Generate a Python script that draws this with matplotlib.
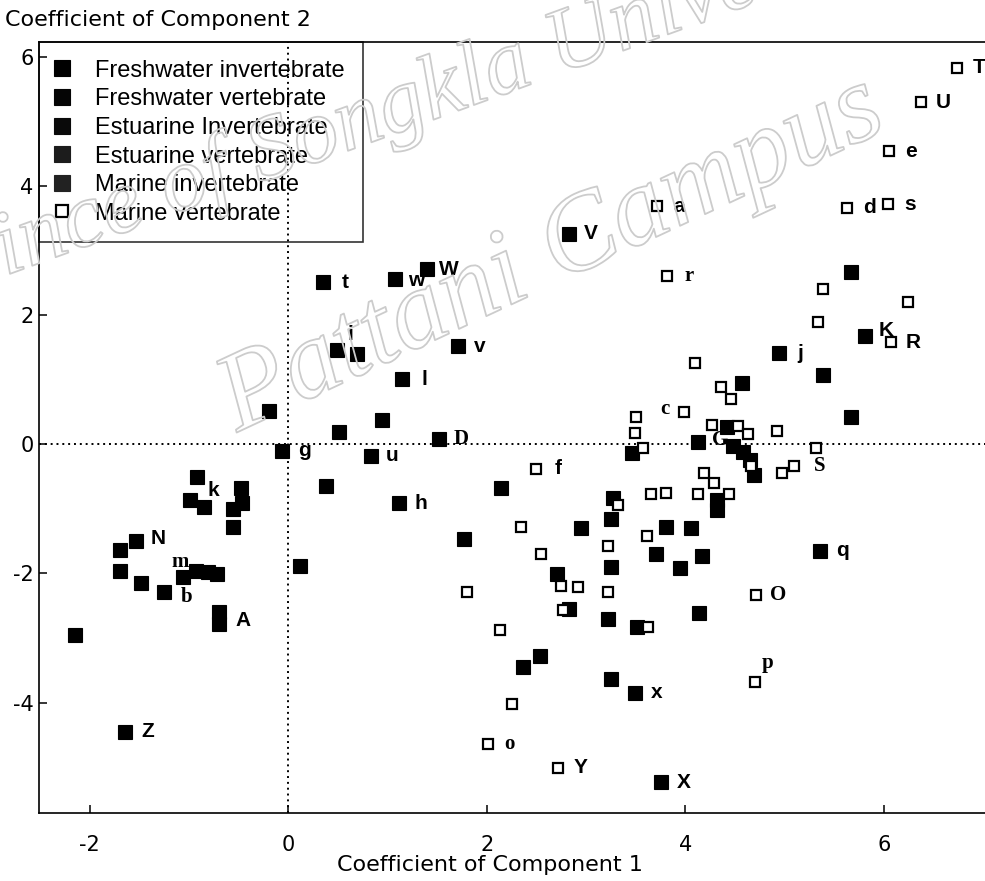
import matplotlib
matplotlib.use("Agg")
import matplotlib.pyplot as plt
import matplotlib.patheffects as pe
from matplotlib.lines import Line2D

plt.rcParams["axes.unicode_minus"] = False
plt.rcParams["font.family"] = "DejaVu Sans"

# PCA scores: component 1 (x), component 2 (y), point label ("" = unlabelled)
fw_inv_x = [-0.92, -0.99, -0.85, -0.48, -0.46, -0.56, -0.56, -1.53, -1.69, -1.69,
            -1.48, -1.25, -1.06, -0.93, -0.81, -0.72, -0.70, -0.70, -2.15, -1.64]
fw_inv_y = [-0.51, -0.86, -0.97, -0.68, -0.91, -1.00, -1.28, -1.50, -1.64, -1.96,
            -2.15, -2.29, -2.05, -1.96, -1.98, -2.01, -2.60, -2.78, -2.95, -4.45]
fw_inv_lab = ["k", "", "", "", "", "", "", "N", "", "",
              "", "b", "m", "", "", "", "A", "", "", "Z"]

fw_vert_x = [0.12, -0.06, -0.19, 0.35, 1.08, 1.40, 0.49, 0.69, 1.71, 1.15,
             0.95, 0.51, 1.52, 0.83, 0.38, 1.12, 2.83]
fw_vert_y = [-1.88, -0.10, 0.52, 2.51, 2.56, 2.71, 1.46, 1.40, 1.52, 1.01,
             0.38, 0.19, 0.08, -0.18, -0.65, -0.91, 3.26]
fw_vert_lab = ["", "g", "", "t", "w", "W", "i", "", "v", "l",
               "", "", "D", "u", "", "h", "V"]

est_inv_x = [2.14, 1.77, 2.95, 3.25, 3.27, 2.71, 2.83, 3.25, 3.22, 3.51,
             3.81, 4.06, 3.71, 3.95, 4.17, 4.14, 2.54, 2.37, 3.25, 3.49, 3.76]
est_inv_y = [-0.68, -1.47, -1.30, -1.16, -0.83, -2.01, -2.55, -1.90, -2.70, -2.83,
             -1.28, -1.30, -1.70, -1.92, -1.73, -2.61, -3.28, -3.45, -3.63, -3.85, -5.23]
est_inv_lab = [""] * 19 + ["x", "X"]

est_vert_x = [3.46, 4.13, 4.57, 4.42, 4.48, 4.58, 4.65, 4.69, 4.32, 4.32]
est_vert_y = [-0.14, 0.04, 0.95, 0.27, -0.03, -0.12, -0.24, -0.48, -0.86, -1.02]
est_vert_lab = ["", "", "", "", "G", "", "", "", "", ""]

mar_inv_x = [4.94, 5.39, 5.67, 5.67, 5.81, 5.36]
mar_inv_y = [1.41, 1.07, 0.42, 2.67, 1.68, -1.65]
mar_inv_lab = ["j", "", "", "", "K", "q"]

mar_vert_x = [6.74, 6.38, 6.05, 5.63, 6.04, 3.72, 3.82, 5.39, 6.24, 5.34,
              6.07, 4.10, 4.36, 4.46, 3.99, 3.50, 3.49, 3.57, 4.27, 4.53,
              4.63, 4.92, 4.66, 4.97, 5.10, 5.32, 4.19, 4.29, 3.66, 3.81,
              4.13, 4.44, 2.50, 3.32, 2.35, 2.55, 2.75, 2.92, 1.80, 2.13,
              2.77, 3.22, 3.22, 3.62, 3.63, 4.71, 4.70, 2.25, 2.01, 2.72]
mar_vert_y = [5.83, 5.30, 4.54, 3.66, 3.72, 3.69, 2.61, 2.40, 2.20, 1.89,
              1.58, 1.26, 0.89, 0.70, 0.50, 0.42, 0.18, -0.06, 0.30, 0.28,
              0.16, 0.21, -0.34, -0.44, -0.34, -0.06, -0.44, -0.60, -0.77, -0.75,
              -0.77, -0.77, -0.38, -0.94, -1.28, -1.70, -2.19, -2.21, -2.29, -2.87,
              -2.57, -1.57, -2.29, -1.42, -2.83, -2.33, -3.68, -4.02, -4.64, -5.01]
mar_vert_lab = ["T", "U", "e", "d", "s", "a", "r", "", "", "",
                "R", "", "", "", "c", "", "", "", "", "",
                "", "", "", "", "", "S", "", "", "", "",
                "", "", "f", "", "", "", "", "", "", "",
                "", "", "", "", "", "O", "p", "", "o", "Y"]

group_names = ["Freshwater invertebrate", "Freshwater vertebrate", "Estuarine Invertebrate",
               "Estuarine vertebrate", "Marine invertebrate", "Marine vertebrate"]
legend_colors = ["#000000", "#050505", "#0a0a0a", "#1c1c1c", "#222222", "#000000"]

# label offsets in pixels (dx, dy); anything not listed sits to the right
label_offsets = {"k": (16, -13), "b": (22, -5), "m": (-3, 15), "A": (24, -8),
                 "i": (14, 16), "c": (-19, 3), "S": (3, -18), "p": (13, 19),
                 "G": (-13, 6), "N": (22, 3), "w": (21, -2), "K": (21, 5)}
serif_labels = {"m", "b", "D", "o", "p", "c", "G", "S", "O", "r"}

fig = plt.figure(figsize=(9.85, 8.81), dpi=100)
ax = fig.add_axes([39 / 985, 1 - 813 / 881, (985 - 39) / 985, (813 - 42) / 881])

# outlined watermark lettering
wm = dict(color="none", family="Liberation Serif", style="italic",
          ha="center", va="center", zorder=10,
          path_effects=[pe.withStroke(linewidth=1.3, foreground="#cccccc")])
fig.text(410 / 985, 1 - 104 / 881, "Prince of Songkla University", rotation=20,
         fontsize=66, **wm)
fig.text(552 / 985, 1 - 256 / 881, "Pattani Campus", rotation=25, fontsize=80, **wm)

ax.axhline(0, color="black", lw=1.4, ls=(0, (1, 2)), zorder=1)
ax.axvline(0, color="black", lw=1.4, ls=(0, (1, 2)), zorder=1)

groups = [
    (fw_inv_x, fw_inv_y, fw_inv_lab, True),
    (fw_vert_x, fw_vert_y, fw_vert_lab, True),
    (est_inv_x, est_inv_y, est_inv_lab, True),
    (est_vert_x, est_vert_y, est_vert_lab, True),
    (mar_inv_x, mar_inv_y, mar_inv_lab, True),
    (mar_vert_x, mar_vert_y, mar_vert_lab, False),
]

for xs, ys, labs, filled in groups:
    if filled:
        ax.plot(xs, ys, ls="none", marker="s", ms=9.6, mfc="black", mec="black",
                mew=0.8, zorder=3)
    else:
        ax.plot(xs, ys, ls="none", marker="s", ms=7.6, mfc="white", mec="black",
                mew=1.6, zorder=4)
    for x, y, lab in zip(xs, ys, labs):
        if not lab:
            continue
        dx, dy = label_offsets.get(lab, (22, 0))
        fam = "Liberation Serif" if lab in serif_labels else "Liberation Sans"
        ax.annotate(lab, (x, y), xytext=(dx, dy), textcoords="offset pixels",
                    ha="center", va="center", fontsize=15, fontweight="bold",
                    family=fam, zorder=5)

handles = []
for (xs, ys, labs, filled), name, col in zip(groups, group_names, legend_colors):
    if filled:
        handles.append(Line2D([], [], ls="none", marker="s", ms=11.4, mfc=col,
                              mec=col, mew=0.8, label=name))
    else:
        handles.append(Line2D([], [], ls="none", marker="s", ms=8.8, mfc="white",
                              mec=col, mew=1.6, label=name))

ax.set_xlim(-2.51, 7.02)
ax.set_ylim(-5.71, 6.23)
ax.set_xticks([-2, 0, 2, 4, 6])
ax.set_yticks([-4, -2, 0, 2, 4, 6])
ax.tick_params(direction="in", length=6, width=1.1, labelsize=15)
ax.tick_params(axis="x", pad=16)
ax.tick_params(axis="y", pad=4)
for side in ["left", "bottom", "top"]:
    ax.spines[side].set_linewidth(1.2)
ax.spines["right"].set_visible(False)

leg = ax.legend(handles=handles, loc="upper left", bbox_to_anchor=(0, 1),
                borderaxespad=0, prop={"family": "Liberation Sans", "size": 17},
                frameon=True, fancybox=False, edgecolor="black", facecolor="none",
                handlelength=0.45, handletextpad=1.18,
                labelspacing=0.28, borderpad=0.75)
leg.get_frame().set_linewidth(1.2)
leg.set_zorder(6)

fig.text(5 / 985, 1 - 20 / 881, "Coefficient of Component 2", fontsize=16,
         ha="left", va="center")
fig.text(490 / 985, 1 - 865 / 881, "Coefficient of Component 1", fontsize=16,
         ha="center", va="center")

fig.savefig("out.png", dpi=100)
